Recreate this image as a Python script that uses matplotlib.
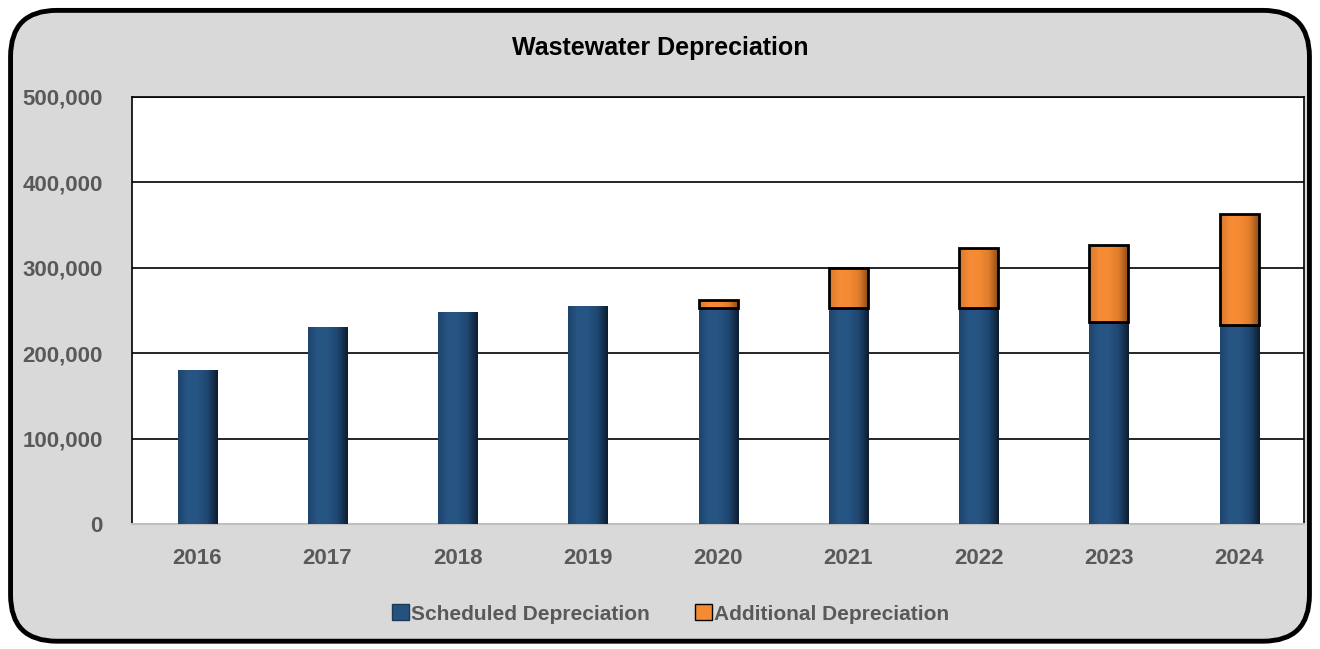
import numpy as np
import matplotlib
matplotlib.use('Agg')
import matplotlib.pyplot as plt
from matplotlib.patches import FancyBboxPatch, Patch
from matplotlib.colors import LinearSegmentedColormap
from matplotlib.ticker import FuncFormatter

# Data
years = ['2016', '2017', '2018', '2019', '2020', '2021', '2022', '2023', '2024']
scheduled = [180000, 231000, 248000, 255000, 253000, 253000, 253000, 237000, 233000]
additional = [0, 0, 0, 0, 9000, 47000, 70000, 90000, 130000]

plt.rcParams['font.family'] = ['Liberation Sans', 'DejaVu Sans']

fig = plt.figure(figsize=(13.2, 6.49), dpi=100)
fig.patch.set_facecolor('white')

# Rounded grey frame, kept behind the axes
frame = FancyBboxPatch((0.008, 0.012), 0.984, 0.972, boxstyle='round,pad=0,rounding_size=0.035',
                       transform=fig.transFigure, facecolor='#d9d9d9', edgecolor='black',
                       linewidth=3.5, mutation_aspect=13.2 / 6.49, zorder=-10)
fig.patches.append(frame)

ax = fig.add_axes([0.1, 0.1926, 0.888, 0.658])
ax.set_zorder(5)
ax.set_facecolor('white')

x = np.arange(len(years))
width = 0.3
blue = '#24527f'
orange = '#f58a33'

blue_cmap = LinearSegmentedColormap.from_list('b', ['#1d446c', '#275685', '#265483', '#1f4670', '#0d1d30'])
orange_cmap = LinearSegmentedColormap.from_list('o', ['#d9782c', '#f68c36', '#f58a33', '#e07d2c', '#8a4a16'])

bars_s = ax.bar(x, scheduled, width, color=blue, edgecolor='#b8c0c8', linewidth=0.6, zorder=3)
add_vals = np.array(additional)
mask = add_vals > 0
bars_a = ax.bar(x[mask], add_vals[mask], width, bottom=np.array(scheduled)[mask], color=orange,
                edgecolor='black', linewidth=2, zorder=4)

# horizontal shading on each bar to mimic the bevel look
grad = np.linspace(0, 1, 64).reshape(1, -1)
for bars, cmap, z in [(bars_s, blue_cmap, 3.5), (bars_a, orange_cmap, 4.5)]:
    for b in bars:
        x0, y0, w, h = b.get_x(), b.get_y(), b.get_width(), b.get_height()
        im = ax.imshow(grad, extent=(x0, x0 + w, y0, y0 + h), aspect='auto', cmap=cmap,
                       zorder=z, interpolation='bicubic')
        im.set_clip_path(b)
for b in bars_a:
    b.set_facecolor('none')
    b.set_zorder(5)

ax.set_ylim(0, 500000)
ax.set_xlim(-0.5, len(years) - 0.5)
ax.set_yticks(np.arange(0, 500001, 100000))
ax.yaxis.set_major_formatter(FuncFormatter(lambda v, p: f'{int(v):,}'))
ax.grid(axis='y', color='black', linewidth=1.2, zorder=1)
ax.set_axisbelow(True)

ax.set_xticks(x)
ax.set_xticklabels(years)
ax.tick_params(axis='both', length=0, labelsize=16, labelcolor='#595959')
ax.tick_params(axis='x', pad=17)
ax.tick_params(axis='y', pad=21)
for lbl in ax.get_xticklabels() + ax.get_yticklabels():
    lbl.set_fontweight('bold')

for s in ['left', 'top', 'right']:
    ax.spines[s].set_color('black')
    ax.spines[s].set_linewidth(1.2)
ax.spines['bottom'].set_color('#bfbfbf')
ax.spines['bottom'].set_linewidth(1.5)

fig.text(0.5, 0.926, 'Wastewater Depreciation', ha='center', va='center',
         fontsize=18, fontweight='bold', color='black')

handles = [Patch(facecolor=blue, edgecolor='#1a3a5a', label='Scheduled Depreciation'),
           Patch(facecolor=orange, edgecolor='black', label='Additional Depreciation')]
fig.legend(handles=handles, loc='center', bbox_to_anchor=(0.508, 0.054), ncol=2,
           frameon=False, handlelength=0.8, handleheight=0.8, handletextpad=0.1,
           columnspacing=2.2, prop={'size': 15, 'weight': 'bold'}, labelcolor='#595959')

fig.savefig('out.png', dpi=100, facecolor=fig.get_facecolor())
